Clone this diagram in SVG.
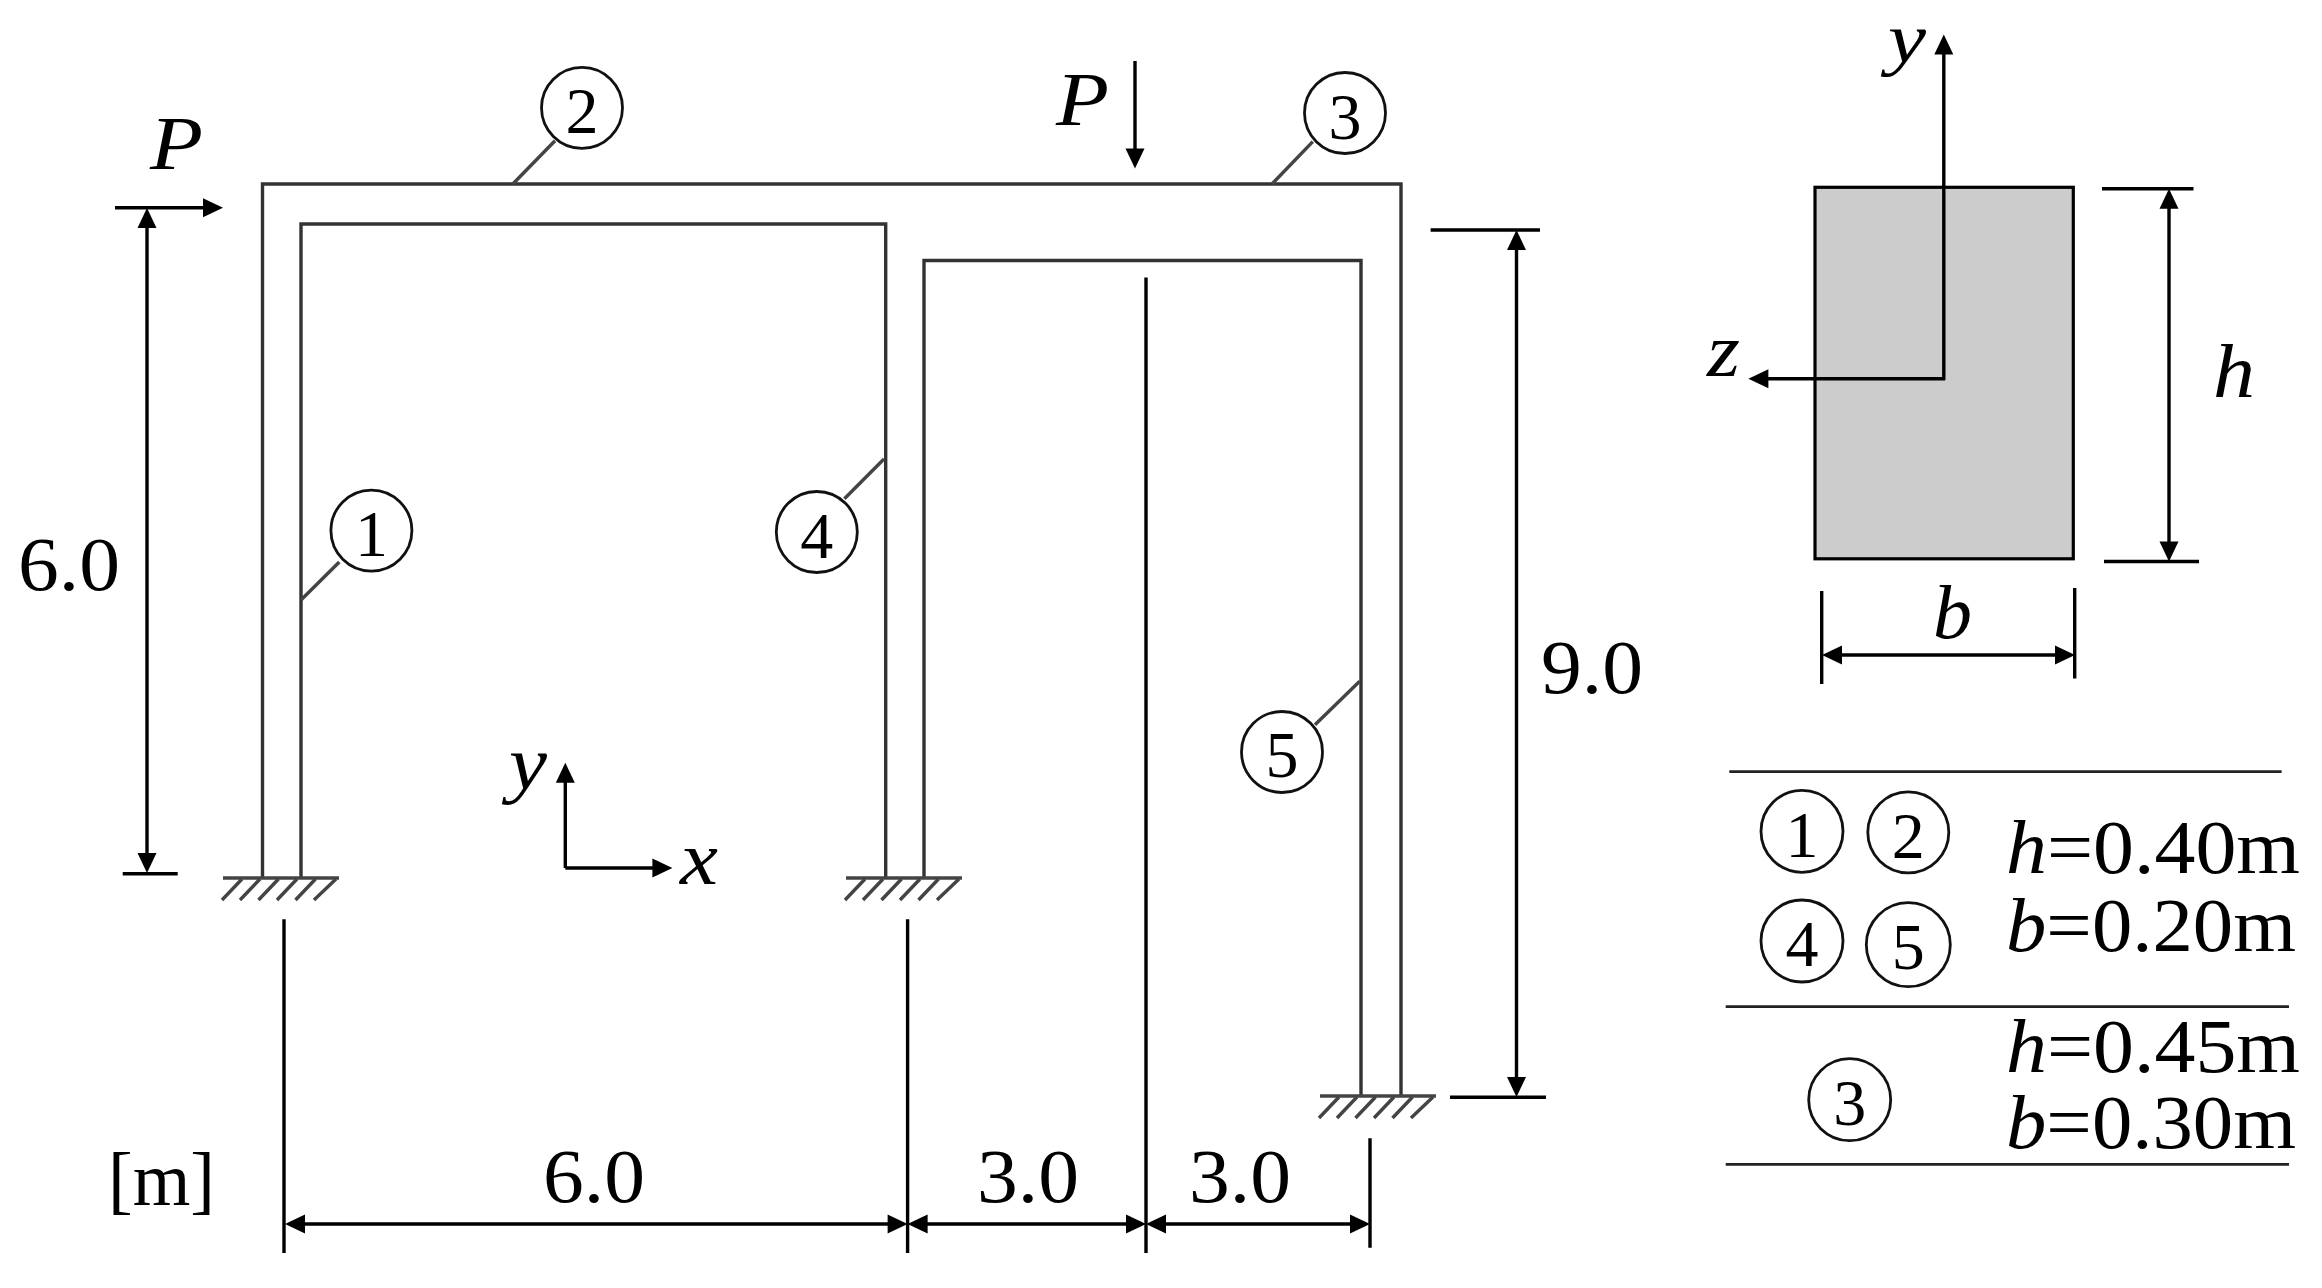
<svg xmlns="http://www.w3.org/2000/svg" width="2322" height="1288" viewBox="0 0 2322 1288">
<style>
text{font-family:"Liberation Serif","Times New Roman",serif;font-size:76px;fill:#000}
.i{font-style:italic}
.d{font-size:66px;text-anchor:middle}
.m{text-anchor:middle}
.frame{fill:none;stroke:#333;stroke-width:3.4}
.cir{fill:#fff;stroke:#111;stroke-width:2.8}
.lead{fill:none;stroke:#444;stroke-width:3.4}
.dim{fill:none;stroke:#000;stroke-width:3.4}
.a{marker-end:url(#ah)}
.aa{marker-start:url(#ah);marker-end:url(#ah)}
.rule{fill:none;stroke:#222;stroke-width:2.8}
.hatch{fill:none;stroke:#444;stroke-width:3.4}
</style>
<defs>
<marker id="ah" markerUnits="userSpaceOnUse" markerWidth="22" markerHeight="20" refX="10" refY="9.5" orient="auto-start-reverse" overflow="visible"><path d="M0 0L20 9.5L0 19Z" fill="#000"/></marker>
<g id="support">
<path class="hatch" d="M0 2H116"/>
<path class="hatch" d="M19 3L-1 24M37 3L17 24M55.500 3L35.500 24M74 3L54 24M92.500 3L72.500 24M113 3L91 24"/>
</g>
</defs>
<rect width="2322" height="1288" fill="#fff"/>

<g id="frame">
<path class="frame" d="M262.500 877V184H1401V1096"/>
<path class="frame" d="M301 877V224H885.700V877"/>
<path class="frame" d="M924 877V260.500H1361V1096"/>
<use href="#support" x="223" y="876"/>
<use href="#support" x="846" y="876"/>
<use href="#support" x="1320" y="1094"/>
</g>

<g id="connectors">
<path class="lead" d="M339.300 562L301 600"/>
<path class="lead" d="M555 140.800L512.800 184"/>
<path class="lead" d="M1312.800 141.600L1272 184"/>
<path class="lead" d="M844.400 498.800L884 459"/>
<path class="lead" d="M1315 724.700L1359.700 681.300"/>
<path class="dim a" d="M115 207.800H213"/>
<path class="dim a" d="M1135 61V158.600"/>
<path class="dim aa" d="M147 218V863"/>
<path class="dim" d="M122.700 873.700H177.700"/>
<path class="dim aa" d="M1516.500 240V1087"/>
<path class="dim" d="M1430.600 230H1540M1450 1097.300H1546"/>
<path class="dim" d="M284 919.300V1253M907.600 919.300V1253M1146 277.500V1253M1370 1138.300V1247.700"/>
<path class="dim aa" d="M295 1224H897.600"/>
<path class="dim aa" d="M917.600 1224H1136"/>
<path class="dim aa" d="M1156 1224H1360"/>
<path class="dim a" d="M565.300 868V772.700"/>
<path class="dim a" d="M565.300 868H662.400"/>
</g>

<g id="section">
<rect x="1815" y="187.300" width="258.300" height="371.500" fill="#ccc" stroke="#000" stroke-width="3.2"/>
<path class="dim a" d="M1943.800 380V44.400"/>
<path class="dim a" d="M1945 378.800H1758.400"/>
<path class="dim aa" d="M2169 198.700V551.500"/>
<path class="dim" d="M2102 188.700H2193.500M2104 561.500H2199"/>
<path class="dim aa" d="M1832 655H2065"/>
<path class="dim" d="M1821.700 591V684M2074.700 588V678.600"/>
</g>

<g id="table-rules">
<path class="rule" d="M1729.300 771.700H2281.600"/>
<path class="rule" d="M1725.700 1006.700H2289"/>
<path class="rule" d="M1725.700 1164.300H2289"/>
</g>

<g id="member-1"><circle class="cir" cx="371.400" cy="530.600" r="40.500"/><text class="d" x="371.400" y="556">1</text></g>
<g id="member-2"><circle class="cir" cx="582" cy="107.800" r="40.500"/><text class="d" x="582" y="133">2</text></g>
<g id="member-3"><circle class="cir" cx="1345" cy="113" r="40.500"/><text class="d" x="1345" y="138.500">3</text></g>
<g id="member-4"><circle class="cir" cx="816.800" cy="532" r="40.500"/><text class="d" x="816.800" y="557.500">4</text></g>
<g id="member-5"><circle class="cir" cx="1282" cy="752" r="40.500"/><text class="d" x="1282" y="776.500">5</text></g>

<g id="table-key">
<circle class="cir" cx="1802" cy="831.300" r="41"/><text class="d" x="1802" y="856.500">1</text>
<circle class="cir" cx="1908.300" cy="832.300" r="40.500"/><text class="d" x="1908.300" y="857.500">2</text>
<circle class="cir" cx="1802" cy="941" r="41"/><text class="d" x="1802" y="966.200">4</text>
<circle class="cir" cx="1908.300" cy="944.700" r="42"/><text class="d" x="1908.300" y="969">5</text>
<circle class="cir" cx="1849.700" cy="1099.700" r="41"/><text class="d" x="1849.700" y="1125.200">3</text>
</g>

<g id="labels">
<text class="i" x="150" y="168.600" textLength="53" lengthAdjust="spacingAndGlyphs">P</text>
<text class="i" x="1056" y="124.500" textLength="53" lengthAdjust="spacingAndGlyphs">P</text>
<text class="m" x="69" y="590" textLength="102" lengthAdjust="spacingAndGlyphs">6.0</text>
<text class="m" x="1592" y="693" textLength="102" lengthAdjust="spacingAndGlyphs">9.0</text>
<text class="m" x="594" y="1202" textLength="102" lengthAdjust="spacingAndGlyphs">6.0</text>
<text class="m" x="1028" y="1202" textLength="102" lengthAdjust="spacingAndGlyphs">3.0</text>
<text class="m" x="1240" y="1202" textLength="102" lengthAdjust="spacingAndGlyphs">3.0</text>
<text x="108" y="1205" textLength="107" lengthAdjust="spacingAndGlyphs">[m]</text>
<text class="i" x="509" y="789" textLength="38" lengthAdjust="spacingAndGlyphs">y</text>
<text class="i" x="680" y="884" textLength="38" lengthAdjust="spacingAndGlyphs">x</text>
<text class="i" x="1888" y="61.500" style="font-size:69px" textLength="38" lengthAdjust="spacingAndGlyphs">y</text>
<text class="i" x="1707" y="375.600" textLength="33" lengthAdjust="spacingAndGlyphs">z</text>
<text class="i" x="2213" y="397" textLength="42" lengthAdjust="spacingAndGlyphs">h</text>
<text class="i" x="1933" y="638" textLength="39" lengthAdjust="spacingAndGlyphs">b</text>
<text x="2006" y="873.300" textLength="294" lengthAdjust="spacingAndGlyphs"><tspan class="i">h</tspan>=0.40m</text>
<text x="2006" y="950.700" textLength="290" lengthAdjust="spacingAndGlyphs"><tspan class="i">b</tspan>=0.20m</text>
<text x="2006" y="1071.700" textLength="294" lengthAdjust="spacingAndGlyphs"><tspan class="i">h</tspan>=0.45m</text>
<text x="2006" y="1148.300" textLength="290" lengthAdjust="spacingAndGlyphs"><tspan class="i">b</tspan>=0.30m</text>
</g>
</svg>
